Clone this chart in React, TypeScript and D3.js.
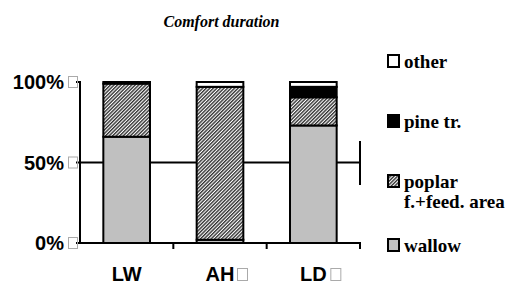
import React from "react";
import * as d3 from "d3";

const categories = ["LW", "AH", "LD"];
const categoryHasBox = [false, true, true];
const seriesKeys = ["wallow", "poplar", "pine", "other"];
const wallow = [66, 2, 73];
const poplar = [33, 95, 17.5];
const pine = [1, 0, 6.5];
const other = [0, 3, 3];
const yTicks = [0, 50, 100];
const legendLabels = [["other"], ["pine tr."], ["poplar", "f.+feed. area"], ["wallow"]];
const legendKeys = ["other", "pine", "poplar", "wallow"];

const fills: Record<string, string> = {
  wallow: "#c0c0c0",
  poplar: "url(#hatch)",
  pine: "#000",
  other: "#fff",
};

export default function App() {
  const W = 522, H = 285;
  const x0 = 80, x1 = 360, yTop = 82, yBot = 243;
  const x = d3.scaleBand().domain(categories).range([x0, x1]).paddingInner(0.5).paddingOuter(0.25);
  const y = d3.scaleLinear().domain([0, 100]).range([yBot, yTop]);
  const data = categories.map((c, i) => ({ cat: c, wallow: wallow[i], poplar: poplar[i], pine: pine[i], other: other[i] }));
  const stacked = d3.stack<any>().keys(seriesKeys)(data);
  const legendY = [68, 128, 188, 252];

  return (
    <svg width={W} height={H} style={{ position: "absolute", left: 0, top: 0 }}>
      <defs>
        <pattern id="hatch" patternUnits="userSpaceOnUse" width="2.5" height="2.5" patternTransform="rotate(45)">
          <rect width="2.5" height="2.5" fill="#fff" />
          <rect width="1.4" height="2.5" fill="#333" />
        </pattern>
      </defs>
      <rect width={W} height={H} fill="#fff" />
      <text x={221.5} y={27} textAnchor="middle" fontFamily="Liberation Serif" fontStyle="italic" fontWeight="bold" fontSize={16}>Comfort duration</text>
      {/* 50% gridline */}
      <line x1={x0} x2={x1} y1={y(50)} y2={y(50)} stroke="#000" strokeWidth={2} />
      <line x1={x1} x2={x1} y1={141} y2={185} stroke="#000" strokeWidth={2} />
      {/* bars */}
      {stacked.map((s) =>
        s.map((d, i) => {
          const h = y(d[0]) - y(d[1]);
          if (h <= 0) return null;
          return (
            <rect key={s.key + i} x={x(categories[i])!} y={y(d[1])} width={x.bandwidth()} height={h}
              fill={fills[s.key]} stroke="#000" strokeWidth={2} />
          );
        })
      )}
      {/* axes */}
      <line x1={x0} x2={x0} y1={yTop - 1} y2={yBot + 1} stroke="#000" strokeWidth={2} />
      <line x1={x0 - 1} x2={x1 + 1} y1={yBot} y2={yBot} stroke="#000" strokeWidth={2} />
      {yTicks.map((t) => (
        <g key={t}>
          <line x1={x0 - 4} x2={x0} y1={y(t)} y2={y(t)} stroke="#000" strokeWidth={2} />
          <text x={64} y={y(t) + 7} textAnchor="end" fontFamily="Liberation Sans" fontWeight="bold" fontSize={20}>{t}%</text>
          <rect x={68.5} y={y(t) - 5.5} width={9} height={11} fill="none" stroke="#aaa" strokeWidth={1} />
        </g>
      ))}
      {categories.map((c, i) => (
        <line key={c} x1={x0 + (i + 1) * (x1 - x0) / 3} x2={x0 + (i + 1) * (x1 - x0) / 3} y1={yBot} y2={yBot + 6} stroke="#000" strokeWidth={2} />
      ))}
      {categories.map((c, i) => {
        const cx = x(c)! + x.bandwidth() / 2;
        const hasBox = categoryHasBox[i];
        return (
          <g key={c}>
            <text x={cx} y={281} textAnchor="middle" fontFamily="Liberation Sans" fontWeight="bold" fontSize={20}>{c}</text>
            {hasBox && <rect x={cx + 17.5} y={268.5} width={10} height={12} fill="none" stroke="#aaa" strokeWidth={1} />}
          </g>
        );
      })}
      {/* legend */}
      {legendKeys.map((k, i) => (
        <g key={k}>
          <rect x={388} y={legendY[i] - 13} width={11} height={12} fill={fills[k]} stroke="#000" strokeWidth={2} />
          {legendLabels[i].map((l, j) => (
            <text key={j} x={404} y={legendY[i] + j * 20} fontFamily="Liberation Serif" fontWeight="bold" fontSize={19}>{l}</text>
          ))}
        </g>
      ))}
    </svg>
  );
}
